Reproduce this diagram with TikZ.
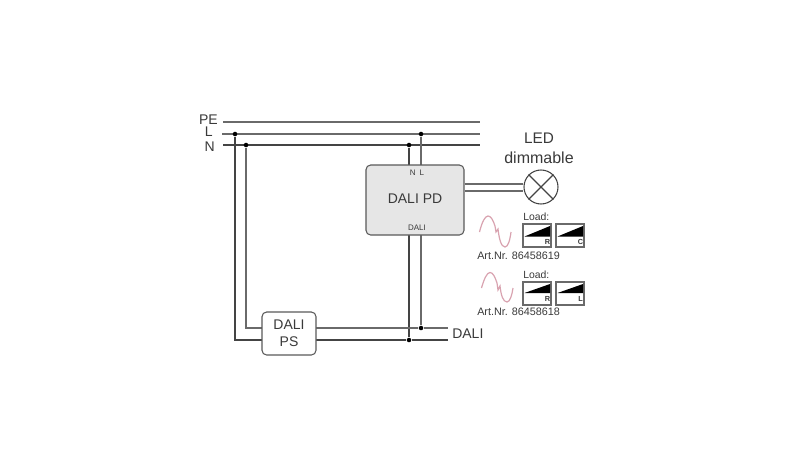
\documentclass[tikz,border=0pt]{standalone}
\usepackage{fontspec}
\setmainfont{Liberation Sans}
\definecolor{ink}{HTML}{3A3A3A}
\definecolor{wire}{HTML}{444444}
\definecolor{wirel}{HTML}{6A6A6A}
\definecolor{boxfill}{HTML}{E6E6E6}
\definecolor{boxedge}{HTML}{5A5A5A}
\definecolor{sine}{HTML}{D9A3B0}
\tikzset{
  x=0.75pt,y=-0.75pt,
  wiren/.style={draw=wire,line width=0.95pt},
  wireb/.style={draw=wirel,line width=1.4pt},
  wirep/.style={draw=wirel,line width=1.1pt},
  joint/.style={circle,fill=black,inner sep=0pt,minimum size=3.4pt},
  label/.style={text=ink,inner sep=0pt,font=\fontsize{10.5pt}{12pt}\selectfont},
  small/.style={text=ink,inner sep=0pt,font=\fontsize{6pt}{7pt}\selectfont},
  art/.style={text=ink,inner sep=0pt,anchor=west,font=\fontsize{8.1pt}{9pt}\selectfont},
  pdbox/.style={draw=boxedge,fill=boxfill,line width=0.8pt,rounded corners=3.5pt,minimum width=73.5pt,minimum height=52.5pt,inner sep=0pt},
  psbox/.style={draw=boxedge,fill=white,line width=0.8pt,rounded corners=3.5pt,minimum width=40.5pt,minimum height=32.25pt,inner sep=0pt,align=center,text=ink,font=\fontsize{10.5pt}{13pt}\selectfont},
  loadbox/.style={draw=wirel,fill=white,line width=1pt,minimum width=21pt,minimum height=17.25pt,inner sep=0pt},
  lamp/.style={circle,draw=wire,fill=white,line width=0.8pt,minimum size=25.5pt,inner sep=0pt},
  sinewave/.style={draw=sine,line width=0.9pt},
  kind/.style={inner sep=0pt,font=\fontsize{5.5pt}{6pt}\selectfont\bfseries,text=ink},
}
\begin{document}
\begin{tikzpicture}
\useasboundingbox (0,0) rectangle (800,450);
\fill[white] (0,0) rectangle (800,450);
\node[label,anchor=east] (pe) at (218,120) {PE};
\node[label,anchor=east] (l) at (213,132) {L};
\node[label,anchor=east] (n) at (215,147) {N};
\coordinate (pes) at (223,122); \coordinate (pee) at (480,122);
\coordinate (ls) at (222,134);  \coordinate (le) at (480,134);
\coordinate (ns) at (223,145);  \coordinate (ne) at (480,145);
\draw[wirep] (pes) -- (pee);
\draw[wireb] (ls) -- (le);
\draw[wiren] (ns) -- (ne);
\node[joint] (j1) at (235,134) {};
\node[joint] (j2) at (246,145) {};
\node[joint] (j3) at (409,145) {};
\node[joint] (j4) at (421,134) {};
\node[joint] (j5) at (421,328) {};
\node[joint] (j6) at (409,340) {};
\coordinate (a1) at (409,165); \coordinate (a2) at (421,165);
\coordinate (b1) at (409,235); \coordinate (b2) at (421,235);
\coordinate (c1) at (235,340); \coordinate (c2) at (246,328);
\coordinate (d1) at (448,328); \coordinate (d2) at (448,340);
\coordinate (e1) at (262,340); \coordinate (e2) at (262,328);
\coordinate (f1) at (316,328); \coordinate (f2) at (316,340);
\draw[wiren,line width=1.1pt] (j1) -- (c1) -- (e1);
\draw[wireb] (j2) -- (c2) -- (e2);
\draw[wiren] (j3) -- (a1);
\draw[wireb] (j4) -- (a2);
\draw[wiren] (b1) -- (j6);
\draw[wireb] (b2) -- (j5);
\draw[wireb] (f1) -- (j5) -- (d1);
\draw[wiren] (f2) -- (j6) -- (d2);
\node[pdbox] (pd) at (415,200) {};
\node[text=ink,inner sep=0pt,font=\fontsize{10.5pt}{12pt}\selectfont] (pdt) at (415,198.5) {DALI PD};
\node[small] (nl) at (417,172.5) {N\hspace{3pt}L};
\node[small] (dl) at (417,227.5) {DALI};
\node[psbox] (ps) at (289,333.5) {DALI\\PS};
\node[label,anchor=west] (dali) at (452,334) {DALI};
\node[lamp] (lp) at (541,187) {};
\draw[wireb] (pd.east |- 0,184) -- (lp.west |- 0,184);
\draw[wireb] (pd.east |- 0,191) -- (lp.west |- 0,191);
\draw[wiren] (lp.north west) -- (lp.south east);
\draw[wiren] (lp.north east) -- (lp.south west);
\node[text=ink,inner sep=0pt,font=\fontsize{11.5pt}{14pt}\selectfont] (led) at (539,138) {LED};
\node[text=ink,inner sep=0pt,font=\fontsize{12pt}{14pt}\selectfont] (dim) at (539,158) {dimmable};
% row 1
\draw[sinewave] (479.5,232) .. controls (482,222) and (485,216) .. (488,216) .. controls (491,216) and (493,220) .. (495,226) -- (496,232) -- (498,229) .. controls (499,238) and (501,247) .. (505,247) .. controls (508,247) and (510,240) .. (511,232);
\node[art,anchor=west,font=\fontsize{7.8pt}{9pt}\selectfont] (load1) at (523,216.5) {Load:};
\node[loadbox] (r1a) at (537,235.5) {};
\node[loadbox] (r1b) at (570,235.5) {};
\fill[black] (524.5,236.5) -- (550,226) -- (550,236.5) -- cycle;
\fill[black] (557.5,236.5) -- (583,226) -- (583,236.5) -- cycle;
\node[kind] (r1at) at (547.5,242) {R};
\node[kind] (r1bt) at (580.5,242) {C};
\node[art] (art1) at (477,256) {Art.Nr. 86458619};
% row 2
\draw[sinewave] (481.5,288) .. controls (484,279) and (487,272.5) .. (490,272.5) .. controls (493,272.5) and (495,277) .. (497,283) -- (498,290) -- (500,286) .. controls (501,295) and (503,302) .. (507,302) .. controls (510,302) and (512,295) .. (513,288);
\node[art,anchor=west,font=\fontsize{7.8pt}{9pt}\selectfont] (load2) at (523,275) {Load:};
\node[loadbox] (r2a) at (537,293.5) {};
\node[loadbox] (r2b) at (570,293.5) {};
\fill[black] (524.5,293) -- (550,284) -- (550,293) -- cycle;
\fill[black] (557.5,293) -- (583,284) -- (583,293) -- cycle;
\node[kind] (r2at) at (547.5,299) {R};
\node[kind] (r2bt) at (580.5,299) {L};
\node[art] (art2) at (477,312) {Art.Nr. 86458618};
\end{tikzpicture}
\end{document}
